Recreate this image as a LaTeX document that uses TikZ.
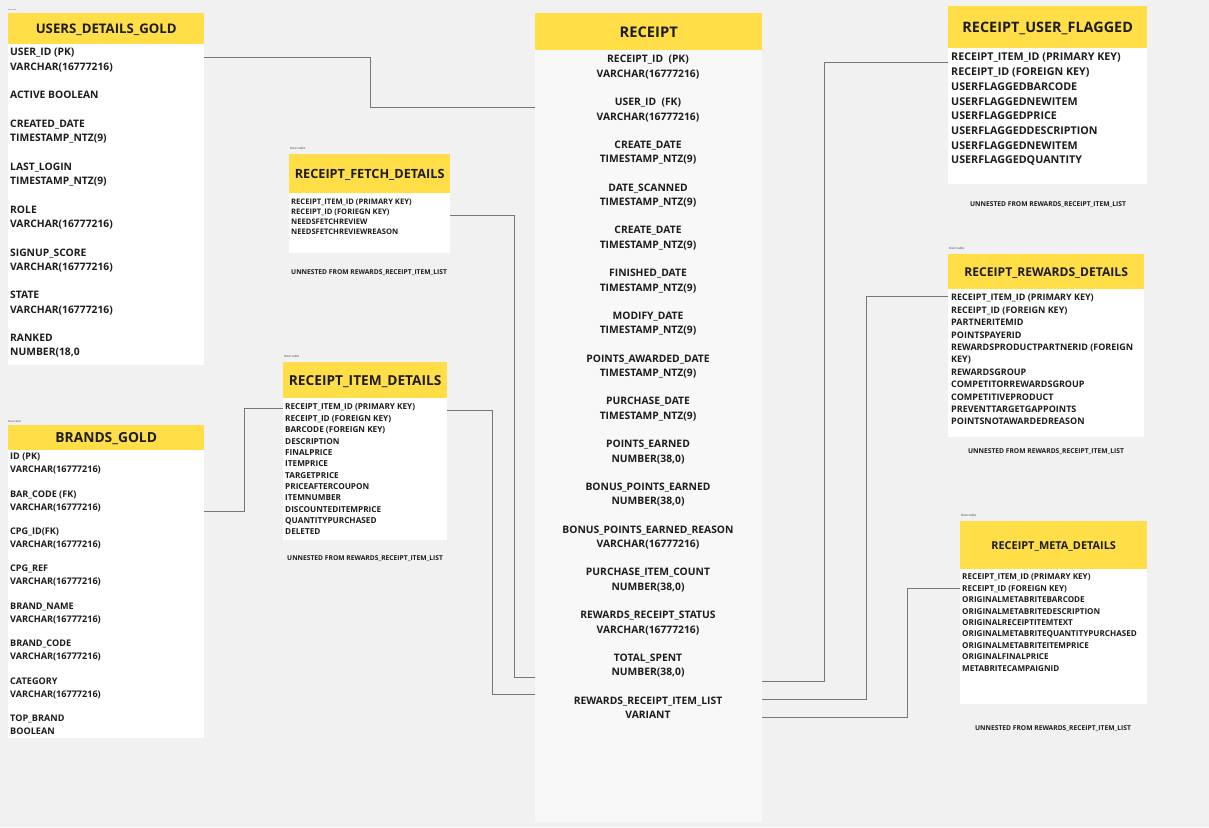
\documentclass[tikz,border=0pt]{standalone}
\usepackage{fontspec}
\setmainfont{Open Sans}
\usetikzlibrary{positioning}

\definecolor{hdryellow}{RGB}{255,222,72}
\definecolor{bggray}{RGB}{241,241,241}
\definecolor{linkgray}{RGB}{118,118,118}
\definecolor{inkdark}{RGB}{28,28,28}
\definecolor{rcbody}{RGB}{248,248,248}

\newcommand{\tblfont}[1]{\fontsize{#1}{#1}\selectfont\bfseries}

\tikzset{
  hdr/.style={fill=hdryellow, anchor=north west, inner sep=0pt, text depth=0pt, text=inkdark},
  tbody/.style={fill=white, anchor=north west, inner sep=0pt},
  row/.style={anchor=mid west, inner sep=0pt, yshift=-1.3pt, text=inkdark},
  rowc/.style={anchor=mid, inner sep=0pt, yshift=-1.3pt, text=inkdark},
  note/.style={inner sep=0pt, yshift=-1pt, text=inkdark, font=\tblfont{6.7}},
  newtbl/.style={anchor=south west, inner sep=0pt, text=gray, font=\tblfont{3}},
  link/.style={draw=linkgray, line width=0.9pt},
}

\begin{document}
\begin{tikzpicture}[x=1pt,y=-1pt]
  % 背景
  \fill[bggray] (0,0) rectangle (1209,827);
  \useasboundingbox (0,0) rectangle (1209,827);

  % USERS_DETAILS_GOLD
  \node[newtbl, font=\tblfont{1.6}] (udg-n) at (8,11) {New table};
  \node[tbody, minimum width=196, minimum height=321] (udg-b) at (8,44) {};
  \node[hdr, minimum width=196, minimum height=31, font=\tblfont{13.2}] (udg) at (8,13) {USERS\_DETAILS\_GOLD};
  \foreach \y/\t [count=\i] in {52/USER\_ID (PK), 67/VARCHAR(16777216), 95/ACTIVE BOOLEAN,
      124/CREATED\_DATE, 138/TIMESTAMP\_NTZ(9), 167/LAST\_LOGIN, 181/TIMESTAMP\_NTZ(9),
      210/ROLE, 224/VARCHAR(16777216), 253/SIGNUP\_SCORE, 267/VARCHAR(16777216),
      295/STATE, 310/VARCHAR(16777216), 338/RANKED, 352/{NUMBER(18,0}} {
    \node[row, font=\tblfont{10.3}] (udg-\i) at (10,\y) {\t};
  }

  % BRANDS_GOLD
  \node[newtbl, font=\tblfont{2.6}] (bg-n) at (8,423) {New table};
  \node[tbody, minimum width=196, minimum height=288] (bg-b) at (8,450) {};
  \node[hdr, minimum width=196, minimum height=25, font=\tblfont{13.8}] (bg) at (8,425) {BRANDS\_GOLD};
  \foreach \y/\t [count=\i] in {456/ID (PK), 469/VARCHAR(16777216), 494/BAR\_CODE (FK), 507/VARCHAR(16777216),
      531/CPG\_ID(FK), 544/VARCHAR(16777216), 568/CPG\_REF, 581/VARCHAR(16777216),
      606/BRAND\_NAME, 619/VARCHAR(16777216), 643/BRAND\_CODE, 656/VARCHAR(16777216),
      681/CATEGORY, 694/VARCHAR(16777216), 718/TOP\_BRAND, 731/BOOLEAN} {
    \node[row, font=\tblfont{9.1}] (bg-\i) at (10,\y) {\t};
  }

  % RECEIPT_FETCH_DETAILS
  \node[newtbl] (rfd-n) at (290,150) {New table};
  \node[tbody, minimum width=161, minimum height=60] (rfd-b) at (289,193) {};
  \node[hdr, minimum width=161, minimum height=39, font=\tblfont{12.7}] (rfd) at (289,154) {RECEIPT\_FETCH\_DETAILS};
  \foreach \t [count=\i] in {RECEIPT\_ITEM\_ID (PRIMARY KEY), RECEIPT\_ID (FORIEGN KEY),
      NEEDSFETCHREVIEW, NEEDSFETCHREVIEWREASON} {
    \node[row, font=\tblfont{7.6}] (rfd-\i) at (291,{201+10*(\i-1)}) {\t};
  }
  \node[note, anchor=mid west] (rfd-u) at (291,271) {UNNESTED FROM REWARDS\_RECEIPT\_ITEM\_LIST};

  % RECEIPT_ITEM_DETAILS
  \node[newtbl] (rid-n) at (284,358) {New table};
  \node[tbody, minimum width=164, minimum height=142] (rid-b) at (283,398) {};
  \node[hdr, minimum width=164, minimum height=36, font=\tblfont{13.7}] (rid) at (283,362) {RECEIPT\_ITEM\_DETAILS};
  \foreach \t [count=\i] in {RECEIPT\_ITEM\_ID (PRIMARY KEY), RECEIPT\_ID (FOREIGN KEY), BARCODE (FOREIGN KEY),
      DESCRIPTION, FINALPRICE, ITEMPRICE, TARGETPRICE, PRICEAFTERCOUPON, ITEMNUMBER,
      DISCOUNTEDITEMPRICE, QUANTITYPURCHASED, DELETED} {
    \node[row, font=\tblfont{8.2}] (rid-\i) at (285,{406+11.36*(\i-1)}) {\t};
  }
  \node[note, anchor=mid west] (rid-u) at (287,557) {UNNESTED FROM REWARDS\_RECEIPT\_ITEM\_LIST};

  % RECEIPT
  \node[tbody, fill=rcbody, minimum width=227, minimum height=772] (rc-b) at (535,50) {};
  \node[hdr, minimum width=227, minimum height=37, font=\tblfont{14.7}] (rc) at (535,13) {RECEIPT};
  \foreach \a/\b [count=\i] in {RECEIPT\_ID\ \ (PK)/VARCHAR(16777216), USER\_ID\ \ (FK)/VARCHAR(16777216),
      CREATE\_DATE/TIMESTAMP\_NTZ(9), DATE\_SCANNED/TIMESTAMP\_NTZ(9), CREATE\_DATE/TIMESTAMP\_NTZ(9),
      FINISHED\_DATE/TIMESTAMP\_NTZ(9), MODIFY\_DATE/TIMESTAMP\_NTZ(9), POINTS\_AWARDED\_DATE/TIMESTAMP\_NTZ(9),
      PURCHASE\_DATE/TIMESTAMP\_NTZ(9), POINTS\_EARNED/{NUMBER(38,0)}, BONUS\_POINTS\_EARNED/{NUMBER(38,0)},
      BONUS\_POINTS\_EARNED\_REASON/VARCHAR(16777216), PURCHASE\_ITEM\_COUNT/{NUMBER(38,0)},
      REWARDS\_RECEIPT\_STATUS/VARCHAR(16777216), TOTAL\_SPENT/{NUMBER(38,0)},
      REWARDS\_RECEIPT\_ITEM\_LIST/VARIANT} {
    \node[rowc, font=\tblfont{10.3}] (rc-\i a) at (648,{59+42.75*(\i-1)}) {\a};
    \node[rowc, font=\tblfont{10.3}] (rc-\i b) at (648,{73.5+42.75*(\i-1)}) {\b};
  }

  % RECEIPT_USER_FLAGGED
  \node[tbody, minimum width=199, minimum height=136] (ruf-b) at (948,48) {};
  \node[hdr, minimum width=199, minimum height=42, font=\tblfont{14.4}] (ruf) at (948,6) {RECEIPT\_USER\_FLAGGED};
  \foreach \t [count=\i] in {RECEIPT\_ITEM\_ID (PRIMARY KEY), RECEIPT\_ID (FOREIGN KEY), USERFLAGGEDBARCODE,
      USERFLAGGEDNEWITEM, USERFLAGGEDPRICE, USERFLAGGEDDESCRIPTION, USERFLAGGEDNEWITEM,
      USERFLAGGEDQUANTITY} {
    \node[row, font=\tblfont{10.7}] (ruf-\i) at (951,{57+14.7*(\i-1)}) {\t};
  }
  \node[note] (ruf-u) at (1048,204) {UNNESTED FROM REWARDS\_RECEIPT\_ITEM\_LIST};

  % RECEIPT_REWARDS_DETAILS
  \node[newtbl] (rrd-n) at (949,250) {New table};
  \node[tbody, minimum width=196, minimum height=148] (rrd-b) at (948,289) {};
  \node[hdr, minimum width=196, minimum height=35, font=\tblfont{12.1}] (rrd) at (948,254) {RECEIPT\_REWARDS\_DETAILS};
  \foreach \t [count=\i] in {RECEIPT\_ITEM\_ID (PRIMARY KEY), RECEIPT\_ID (FOREIGN KEY), PARTNERITEMID,
      POINTSPAYERID, REWARDSPRODUCTPARTNERID (FOREIGN, KEY), REWARDSGROUP,
      COMPETITORREWARDSGROUP, COMPETITIVEPRODUCT, PREVENTTARGETGAPPOINTS, POINTSNOTAWARDEDREASON} {
    \node[row, font=\tblfont{9.0}] (rrd-\i) at (951,{297+12.4*(\i-1)}) {\t};
  }
  \node[note] (rrd-u) at (1046,451) {UNNESTED FROM REWARDS\_RECEIPT\_ITEM\_LIST};

  % RECEIPT_META_DETAILS
  \node[newtbl] (rmd-n) at (961,517) {New table};
  \node[tbody, minimum width=187, minimum height=135] (rmd-b) at (960,569) {};
  \node[hdr, minimum width=187, minimum height=48, font=\tblfont{10.9}] (rmd) at (960,521) {RECEIPT\_META\_DETAILS};
  \foreach \t [count=\i] in {RECEIPT\_ITEM\_ID (PRIMARY KEY), RECEIPT\_ID (FOREIGN KEY), ORIGINALMETABRITEBARCODE,
      ORIGINALMETABRITEDESCRIPTION, ORIGINALRECEIPTITEMTEXT, ORIGINALMETABRITEQUANTITYPURCHASED,
      ORIGINALMETABRITEITEMPRICE, ORIGINALFINALPRICE, METABRITECAMPAIGNID} {
    \node[row, font=\tblfont{8.1}] (rmd-\i) at (962,{576+11.4*(\i-1)}) {\t};
  }
  \node[note] (rmd-u) at (1053,728) {UNNESTED FROM REWARDS\_RECEIPT\_ITEM\_LIST};

  % 接続点
  \coordinate (udg-o) at (204,57);
  \coordinate (rc-i1) at (535,107);
  \coordinate (rfd-o) at (450,215);
  \coordinate (rc-i2) at (535,677);
  \coordinate (rid-o) at (447,410);
  \coordinate (rc-i3) at (535,694);
  \coordinate (bg-o) at (204,511);
  \coordinate (rid-i) at (283,408);
  \coordinate (rc-o1) at (762,681);
  \coordinate (ruf-i) at (948,62);
  \coordinate (rc-o2) at (762,699);
  \coordinate (rrd-i) at (948,296);
  \coordinate (rc-o3) at (762,717);
  \coordinate (rmd-i) at (960,588);

  % 接続線
  \draw[link] (udg-o) -- ++(166,0) |- (rc-i1);
  \draw[link] (rfd-o) -- ++(64,0) |- (rc-i2);
  \draw[link] (rid-o) -- ++(45,0) |- (rc-i3);
  \draw[link] (bg-o) -- ++(40,0) |- (rid-i);
  \draw[link] (rc-o1) -- ++(62,0) |- (ruf-i);
  \draw[link] (rc-o2) -- ++(104,0) |- (rrd-i);
  \draw[link] (rc-o3) -- ++(145,0) |- (rmd-i);

\end{tikzpicture}
\end{document}
